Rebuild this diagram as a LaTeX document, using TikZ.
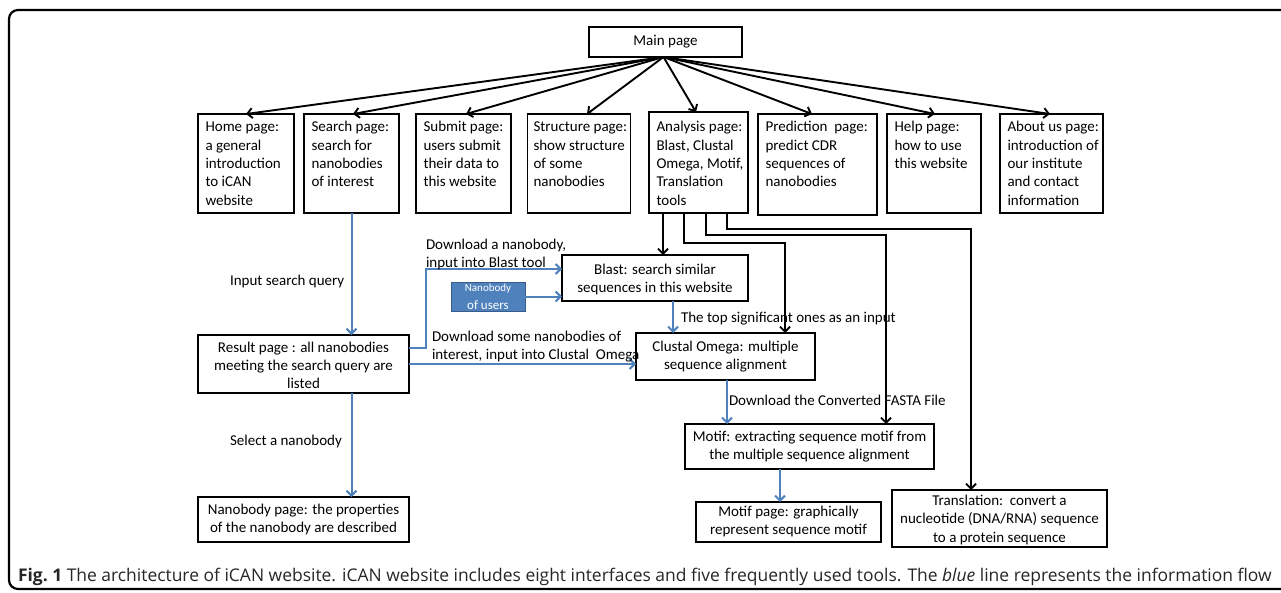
\documentclass[tikz,border=0pt]{standalone}
\usepackage{fontspec}
\setmainfont{Carlito}
\newfontfamily\capfont{Open Sans}
\usetikzlibrary{arrows.meta}
\definecolor{flow}{HTML}{4F81BD}
\definecolor{usersfill}{HTML}{4F81BD}
\definecolor{usersdraw}{HTML}{385D8A}
\begin{document}
\begin{tikzpicture}[x=1pt,y=-1pt,
  every node/.style={inner sep=0pt,outer sep=0pt},
  font=\fontsize{15}{18.3}\selectfont,
  tbox/.style={draw,line width=1.9pt,rectangle},
  ttext/.style={anchor=north west,align=left},
  cbox/.style={draw,line width=1.9pt,rectangle,align=center},
  lbl/.style={anchor=base west},
  lbl2/.style={anchor=north west,align=left},
  blk/.style={draw=black,line width=1.9pt,-{Straight Barb[length=5pt,width=10pt]}},
  blu/.style={draw=flow,line width=2pt,-{Straight Barb[length=5pt,width=10pt]}}]
\useasboundingbox (0,0) rectangle (1281,592);
% frame
\draw[line width=2.2pt,rounded corners=9pt] (1300,10) -- (9,10) -- (9,589) -- (1300,589);

% main page
\node[cbox,minimum width=153pt,minimum height=30pt] (main) at (665.5,42) {Main page};
\coordinate (mp) at (663.5,57);

% top row boxes
\node[tbox,minimum width=96pt,minimum height=99pt] (home) at (246,163.5) {};
\node[tbox,minimum width=95pt,minimum height=99pt] (search) at (351.5,163.5) {};
\node[tbox,minimum width=95pt,minimum height=99pt] (submit) at (463.5,163.5) {};
\node[tbox,minimum width=103pt,minimum height=99pt] (structure) at (579,163.5) {};
\node[tbox,minimum width=99pt,minimum height=101pt] (analysis) at (698.5,162.5) {};
\node[tbox,minimum width=119pt,minimum height=101pt] (prediction) at (817.5,164.5) {};
\node[tbox,minimum width=94pt,minimum height=99pt] (help) at (934,163.5) {};
\node[tbox,minimum width=103pt,minimum height=99pt] (about) at (1051.5,163.5) {};

\node[ttext] (homet) at (205.5,119) {\strut Home page:\\a general\\introduction\\to iCAN\\website};
\node[ttext] (searcht) at (311.5,119) {\strut Search page:\\search for\\nanobodies\\of interest};
\node[ttext] (submitt) at (423.5,119) {\strut Submit page:\\users submit\\their data to\\this website};
\node[ttext] (structuret) at (533.5,119) {\strut Structure page:\\show structure\\of some\\nanobodies};
\node[ttext] (analysist) at (656.5,119) {\strut Analysis page:\\Blast, Clustal\\Omega, Motif,\\Translation\\tools};
\node[ttext] (predictiont) at (765.5,119) {\strut Prediction\ \ page:\\predict CDR\\sequences of\\nanobodies};
\node[ttext] (helpt) at (894.5,119) {\strut Help page:\\how to use\\this website};
\node[ttext] (aboutt) at (1007.5,119) {\strut About us page:\\introduction of\\our institute\\and contact\\information};

% main arrows
\draw[blk] (mp) -- (home.north);
\draw[blk] (mp) -- ([xshift=1.5pt]search.north);
\draw[blk] (mp) -- ([xshift=2.5pt]submit.north);
\draw[blk] (mp) -- ([xshift=8pt]structure.north);
\draw[blk] (mp) -- ([xshift=-2.5pt]analysis.north);
\draw[blk] (mp) -- ([xshift=-5.5pt]prediction.north);
\draw[blk] (mp) -- ([xshift=1pt]help.north);
\draw[blk] (mp) -- ([xshift=-1.5pt]about.north);

% lower boxes
\node[cbox,minimum width=211pt,minimum height=58pt] (result) at (303.5,364)
  {\strut Result page : all nanobodies\\meeting the search query are\\listed};
\node[cbox,minimum width=211pt,minimum height=45pt] (nbpage) at (303.5,519.5)
  {\strut Nanobody page: the properties\\of the nanobody are described\strut};
\node[cbox,minimum width=186pt,minimum height=46pt] (blast) at (655,278)
  {\strut Blast: search similar\\sequences in this website};
\node[draw=usersdraw,fill=usersfill,line width=1pt,text=white,align=center,
  minimum width=74pt,minimum height=29pt] (users) at (488,296.5)
  {{\fontsize{11}{13}\selectfont Nanobody}\\{\fontsize{13}{14}\selectfont of users}};
\node[cbox,minimum width=179pt,minimum height=47pt] (clustal) at (725.5,356.5)
  {\strut Clustal Omega: multiple\\sequence alignment\strut};
\node[cbox,minimum width=249pt,minimum height=45pt] (motif) at (809.5,446.5)
  {\strut Motif: extracting sequence motif from\\the multiple sequence alignment\strut};
\node[cbox,minimum width=185pt,minimum height=40pt] (motifpage) at (788.5,522)
  {\strut Motif page: graphically\\represent sequence motif\strut};
\node[cbox,minimum width=215pt,minimum height=57pt] (trans) at (999.5,518.5)
  {\strut Translation:\ \ convert a\\nucleotide (DNA/RNA) sequence\\to a protein sequence};

% black tool lines from analysis page
\coordinate (a1) at (663,213);
\coordinate (a2) at (684,213);
\coordinate (a3) at (706,213);
\coordinate (a4) at (727,213);
\coordinate (c2) at ([xshift=59.5pt]clustal.north);
\coordinate (c3) at ([xshift=76.5pt]motif.north);
\coordinate (c4) at ([xshift=-28.5pt]trans.north);
\draw[blk] (a1) -- (a1 |- blast.north);
\draw[blk] (a2) -- ++(0,30) -| (c2);
\draw[blk] (a3) -- ++(0,22) -| (c3);
\draw[blk] (a4) -- ++(0,16) -| (c4);

% blue information flow
\draw[blu] (search.south) -- (search.south |- result.north);
\draw[blu] (search.south |- result.south) -- (search.south |- nbpage.north);
\coordinate (r1) at ([yshift=16pt]result.east);
\coordinate (b1) at ([yshift=9pt]blast.west);
\draw[blu] (r1) -- ++(17,0) |- (b1);
\draw[blu] (users.east) -- (users.east -| blast.west);
\draw[blu] (result.east) -- (result.east -| clustal.west);
\coordinate (bs) at ([xshift=18pt]blast.south);
\draw[blu] (bs) -- (bs |- clustal.north);
\coordinate (cs) at ([xshift=1.5pt]clustal.south);
\draw[blu] (cs) -- (cs |- motif.north);
\coordinate (ms) at ([xshift=-29.5pt]motif.south);
\draw[blu] (ms) -- (ms |- motifpage.north);

% labels
\node[lbl] (inq) at (230,285.5) {Input search query};
\node[lbl] (sel) at (230,445.5) {Select a nanobody};
\node[lbl2] (dl1) at (426,236.7) {\strut Download a nanobody,\\input into Blast tool};
\node[lbl2] (dl2) at (432,328.7) {\strut Download some nanobodies of\\interest, input into Clustal\ \ Omega};
\node[lbl] (topsig) at (681,322.5) {The top significant ones as an input};
\node[lbl] (fasta) at (729,405.5) {Download the Converted FASTA File};

% caption
\node[anchor=base west,text=black!85] (cap) at (18,581)
  {\capfont\fontsize{17.45}{21}\selectfont{\bfseries Fig.~1} The architecture of iCAN website. iCAN website includes eight interfaces and five frequently used tools. The {\itshape blue} line represents the information flow};
\end{tikzpicture}
\end{document}
